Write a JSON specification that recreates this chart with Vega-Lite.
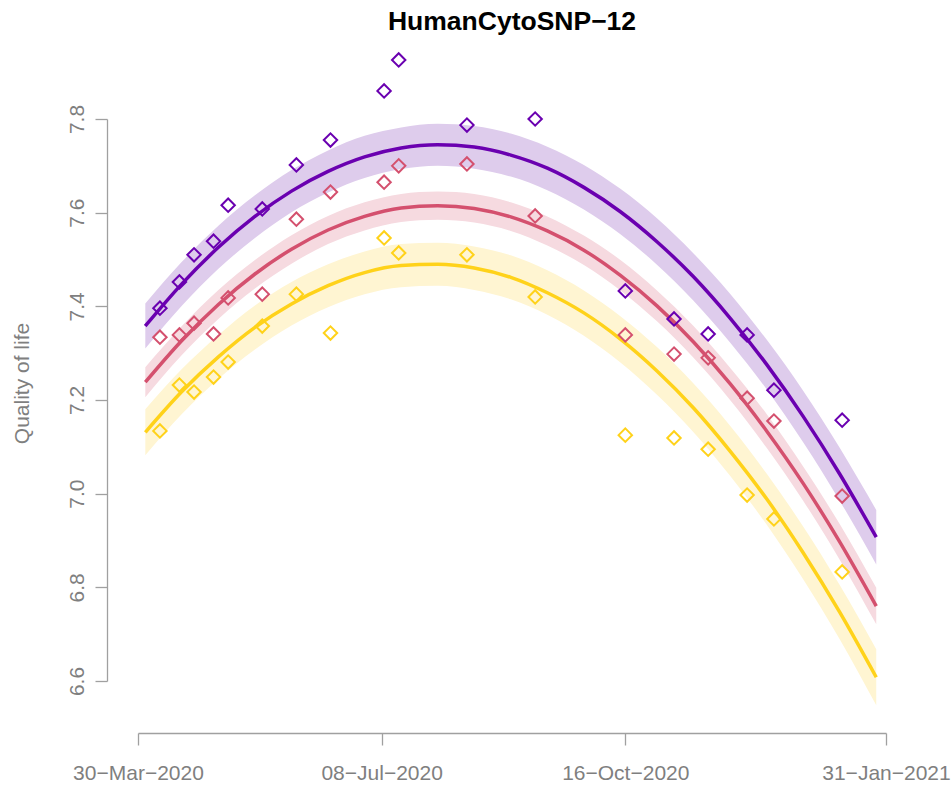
{
  "$schema": "https://vega.github.io/schema/vega-lite/v6.json",
  "autosize": {"type": "none"},
  "padding": {"left": 138, "top": 119, "right": 65, "bottom": 105},
  "width": 748,
  "height": 562,
  "background": "white",
  "title": {"text": "HumanCytoSNP−12", "font": "Liberation Sans", "fontSize": 26.5, "fontWeight": "bold", "color": "black", "anchor": "middle", "frame": "group", "baseline": "alphabetic", "offset": 0, "dy": 7},
  "config": {
    "view": {"stroke": null},
    "axis": {"grid": false, "labelFont": "Liberation Sans", "titleFont": "Liberation Sans", "labelFontSize": 21, "titleFontSize": 21, "labelColor": "#7f7f7f", "titleColor": "#7f7f7f", "titleFontWeight": "normal", "domainColor": "#a0a0a0", "tickColor": "#a0a0a0", "domainWidth": 1.3, "tickWidth": 1.3, "tickSize": 12}
  },
  "datasets": {
    "points": [
      {"g": "1", "date": "2020-04-08", "v": 7.396}, {"g": "1", "date": "2020-04-16", "v": 7.452}, {"g": "1", "date": "2020-04-22", "v": 7.510}, {"g": "1", "date": "2020-04-30", "v": 7.539}, {"g": "1", "date": "2020-05-06", "v": 7.616}, {"g": "1", "date": "2020-05-20", "v": 7.608}, {"g": "1", "date": "2020-06-03", "v": 7.702}, {"g": "1", "date": "2020-06-17", "v": 7.755}, {"g": "1", "date": "2020-07-09", "v": 7.860}, {"g": "1", "date": "2020-07-15", "v": 7.926}, {"g": "1", "date": "2020-08-12", "v": 7.787}, {"g": "1", "date": "2020-09-09", "v": 7.800}, {"g": "1", "date": "2020-10-16", "v": 7.433}, {"g": "1", "date": "2020-11-05", "v": 7.373}, {"g": "1", "date": "2020-11-19", "v": 7.341}, {"g": "1", "date": "2020-12-05", "v": 7.339}, {"g": "1", "date": "2020-12-16", "v": 7.221}, {"g": "1", "date": "2021-01-13", "v": 7.157},
      {"g": "2", "date": "2020-04-08", "v": 7.334}, {"g": "2", "date": "2020-04-16", "v": 7.339}, {"g": "2", "date": "2020-04-22", "v": 7.364}, {"g": "2", "date": "2020-04-30", "v": 7.341}, {"g": "2", "date": "2020-05-06", "v": 7.418}, {"g": "2", "date": "2020-05-20", "v": 7.426}, {"g": "2", "date": "2020-06-03", "v": 7.586}, {"g": "2", "date": "2020-06-17", "v": 7.644}, {"g": "2", "date": "2020-07-09", "v": 7.665}, {"g": "2", "date": "2020-07-15", "v": 7.700}, {"g": "2", "date": "2020-08-12", "v": 7.704}, {"g": "2", "date": "2020-09-09", "v": 7.593}, {"g": "2", "date": "2020-10-16", "v": 7.339}, {"g": "2", "date": "2020-11-05", "v": 7.298}, {"g": "2", "date": "2020-11-19", "v": 7.290}, {"g": "2", "date": "2020-12-05", "v": 7.204}, {"g": "2", "date": "2020-12-16", "v": 7.155}, {"g": "2", "date": "2021-01-13", "v": 6.995},
      {"g": "3", "date": "2020-04-08", "v": 7.134}, {"g": "3", "date": "2020-04-16", "v": 7.232}, {"g": "3", "date": "2020-04-22", "v": 7.217}, {"g": "3", "date": "2020-04-30", "v": 7.249}, {"g": "3", "date": "2020-05-06", "v": 7.281}, {"g": "3", "date": "2020-05-20", "v": 7.358}, {"g": "3", "date": "2020-06-03", "v": 7.426}, {"g": "3", "date": "2020-06-17", "v": 7.343}, {"g": "3", "date": "2020-07-09", "v": 7.546}, {"g": "3", "date": "2020-07-15", "v": 7.514}, {"g": "3", "date": "2020-08-12", "v": 7.510}, {"g": "3", "date": "2020-09-09", "v": 7.420}, {"g": "3", "date": "2020-10-16", "v": 7.125}, {"g": "3", "date": "2020-11-05", "v": 7.119}, {"g": "3", "date": "2020-11-19", "v": 7.095}, {"g": "3", "date": "2020-12-05", "v": 6.997}, {"g": "3", "date": "2020-12-16", "v": 6.946}, {"g": "3", "date": "2021-01-13", "v": 6.833}
    ],
    "fit": [
      {"g": "1", "date": "2020-04-02", "fit": 7.358, "lo": 7.310, "hi": 7.406},
      {"g": "1", "date": "2020-04-17", "fit": 7.448, "lo": 7.401, "hi": 7.495},
      {"g": "1", "date": "2020-05-02", "fit": 7.526, "lo": 7.480, "hi": 7.572},
      {"g": "1", "date": "2020-05-17", "fit": 7.592, "lo": 7.546, "hi": 7.637},
      {"g": "1", "date": "2020-06-01", "fit": 7.646, "lo": 7.601, "hi": 7.691},
      {"g": "1", "date": "2020-06-16", "fit": 7.688, "lo": 7.643, "hi": 7.733},
      {"g": "1", "date": "2020-07-01", "fit": 7.719, "lo": 7.674, "hi": 7.764},
      {"g": "1", "date": "2020-07-16", "fit": 7.738, "lo": 7.693, "hi": 7.782},
      {"g": "1", "date": "2020-07-31", "fit": 7.745, "lo": 7.700, "hi": 7.790},
      {"g": "1", "date": "2020-08-15", "fit": 7.740, "lo": 7.694, "hi": 7.785},
      {"g": "1", "date": "2020-08-30", "fit": 7.723, "lo": 7.677, "hi": 7.769},
      {"g": "1", "date": "2020-09-14", "fit": 7.695, "lo": 7.648, "hi": 7.741},
      {"g": "1", "date": "2020-09-29", "fit": 7.654, "lo": 7.607, "hi": 7.702},
      {"g": "1", "date": "2020-10-14", "fit": 7.602, "lo": 7.554, "hi": 7.651},
      {"g": "1", "date": "2020-10-29", "fit": 7.538, "lo": 7.489, "hi": 7.588},
      {"g": "1", "date": "2020-11-13", "fit": 7.463, "lo": 7.412, "hi": 7.513},
      {"g": "1", "date": "2020-11-28", "fit": 7.375, "lo": 7.323, "hi": 7.427},
      {"g": "1", "date": "2020-12-13", "fit": 7.276, "lo": 7.223, "hi": 7.329},
      {"g": "1", "date": "2020-12-28", "fit": 7.165, "lo": 7.110, "hi": 7.220},
      {"g": "1", "date": "2021-01-12", "fit": 7.042, "lo": 6.985, "hi": 7.098},
      {"g": "1", "date": "2021-01-27", "fit": 6.907, "lo": 6.849, "hi": 6.965},
      {"g": "2", "date": "2020-04-02", "fit": 7.238, "lo": 7.206, "hi": 7.270},
      {"g": "2", "date": "2020-04-17", "fit": 7.327, "lo": 7.296, "hi": 7.358},
      {"g": "2", "date": "2020-05-02", "fit": 7.404, "lo": 7.373, "hi": 7.435},
      {"g": "2", "date": "2020-05-17", "fit": 7.469, "lo": 7.438, "hi": 7.499},
      {"g": "2", "date": "2020-06-01", "fit": 7.522, "lo": 7.491, "hi": 7.552},
      {"g": "2", "date": "2020-06-16", "fit": 7.563, "lo": 7.533, "hi": 7.593},
      {"g": "2", "date": "2020-07-01", "fit": 7.592, "lo": 7.562, "hi": 7.622},
      {"g": "2", "date": "2020-07-16", "fit": 7.610, "lo": 7.580, "hi": 7.640},
      {"g": "2", "date": "2020-07-31", "fit": 7.615, "lo": 7.585, "hi": 7.645},
      {"g": "2", "date": "2020-08-15", "fit": 7.609, "lo": 7.579, "hi": 7.640},
      {"g": "2", "date": "2020-08-30", "fit": 7.591, "lo": 7.561, "hi": 7.622},
      {"g": "2", "date": "2020-09-14", "fit": 7.561, "lo": 7.530, "hi": 7.592},
      {"g": "2", "date": "2020-09-29", "fit": 7.520, "lo": 7.488, "hi": 7.551},
      {"g": "2", "date": "2020-10-14", "fit": 7.466, "lo": 7.434, "hi": 7.499},
      {"g": "2", "date": "2020-10-29", "fit": 7.401, "lo": 7.368, "hi": 7.434},
      {"g": "2", "date": "2020-11-13", "fit": 7.324, "lo": 7.290, "hi": 7.358},
      {"g": "2", "date": "2020-11-28", "fit": 7.235, "lo": 7.200, "hi": 7.269},
      {"g": "2", "date": "2020-12-13", "fit": 7.134, "lo": 7.098, "hi": 7.170},
      {"g": "2", "date": "2020-12-28", "fit": 7.022, "lo": 6.985, "hi": 7.058},
      {"g": "2", "date": "2021-01-12", "fit": 6.897, "lo": 6.859, "hi": 6.935},
      {"g": "2", "date": "2021-01-27", "fit": 6.760, "lo": 6.721, "hi": 6.799},
      {"g": "3", "date": "2020-04-02", "fit": 7.131, "lo": 7.082, "hi": 7.180},
      {"g": "3", "date": "2020-04-17", "fit": 7.218, "lo": 7.170, "hi": 7.266},
      {"g": "3", "date": "2020-05-02", "fit": 7.292, "lo": 7.245, "hi": 7.339},
      {"g": "3", "date": "2020-05-17", "fit": 7.355, "lo": 7.308, "hi": 7.402},
      {"g": "3", "date": "2020-06-01", "fit": 7.405, "lo": 7.359, "hi": 7.452},
      {"g": "3", "date": "2020-06-16", "fit": 7.444, "lo": 7.398, "hi": 7.490},
      {"g": "3", "date": "2020-07-01", "fit": 7.472, "lo": 7.426, "hi": 7.517},
      {"g": "3", "date": "2020-07-16", "fit": 7.487, "lo": 7.441, "hi": 7.533},
      {"g": "3", "date": "2020-07-31", "fit": 7.490, "lo": 7.444, "hi": 7.536},
      {"g": "3", "date": "2020-08-15", "fit": 7.482, "lo": 7.435, "hi": 7.528},
      {"g": "3", "date": "2020-08-30", "fit": 7.462, "lo": 7.415, "hi": 7.509},
      {"g": "3", "date": "2020-09-14", "fit": 7.429, "lo": 7.382, "hi": 7.477},
      {"g": "3", "date": "2020-09-29", "fit": 7.386, "lo": 7.337, "hi": 7.434},
      {"g": "3", "date": "2020-10-14", "fit": 7.330, "lo": 7.280, "hi": 7.379},
      {"g": "3", "date": "2020-10-29", "fit": 7.262, "lo": 7.211, "hi": 7.313},
      {"g": "3", "date": "2020-11-13", "fit": 7.183, "lo": 7.131, "hi": 7.235},
      {"g": "3", "date": "2020-11-28", "fit": 7.091, "lo": 7.038, "hi": 7.145},
      {"g": "3", "date": "2020-12-13", "fit": 6.989, "lo": 6.934, "hi": 7.043},
      {"g": "3", "date": "2020-12-28", "fit": 6.874, "lo": 6.817, "hi": 6.930},
      {"g": "3", "date": "2021-01-12", "fit": 6.747, "lo": 6.689, "hi": 6.805},
      {"g": "3", "date": "2021-01-27", "fit": 6.608, "lo": 6.548, "hi": 6.668}
    ]
  },
  "encoding": {
    "x": {
      "field": "date", "type": "temporal",
      "scale": {"type": "utc", "domain": [{"year": 2020, "month": 3, "date": 30, "utc": true}, {"year": 2021, "month": 1, "date": 31, "utc": true}], "nice": false},
      "axis": {
        "title": null, "orient": "bottom", "offset": 52, "labelPadding": 17,
        "values": [{"year": 2020, "month": 3, "date": 30, "utc": true}, {"year": 2020, "month": 7, "date": 8, "utc": true}, {"year": 2020, "month": 10, "date": 16, "utc": true}, {"year": 2021, "month": 1, "date": 31, "utc": true}],
        "labelExpr": "utcFormat(datum.value, '%d−%b−%Y')", "labelFlush": false, "labelOverlap": false
      }
    }
  },
  "layer": [
    {
      "data": {"name": "fit"},
      "mark": {"type": "area", "interpolate": "monotone"},
      "encoding": {
        "y": {"field": "lo", "type": "quantitative", "scale": {"domain": [6.6, 7.8], "zero": false, "nice": false},
          "axis": {"title": "Quality of life", "orient": "left", "offset": 31, "values": [6.6, 6.8, 7.0, 7.2, 7.4, 7.6, 7.8], "format": ".1f", "labelAngle": -90, "labelAlign": "center", "labelBaseline": "alphabetic", "labelPadding": 12, "labelFlush": false, "labelOverlap": false, "titleAngle": -90, "titleAlign": "center", "titleBaseline": "alphabetic", "titleX": -79, "titleY": 264}},
        "y2": {"field": "hi"},
        "fill": {"field": "g", "type": "nominal", "scale": {"domain": ["1", "2", "3"], "range": ["#DECCEC", "#F6DAE0", "#FFF5D2"]}, "legend": null}
      }
    },
    {
      "data": {"name": "fit"},
      "mark": {"type": "line", "interpolate": "monotone", "strokeWidth": 3.5},
      "encoding": {
        "y": {"field": "fit", "type": "quantitative"},
        "stroke": {"field": "g", "type": "nominal", "scale": {"domain": ["1", "2", "3"], "range": ["#6A00B0", "#D4506E", "#FFD21A"]}, "legend": null}
      }
    },
    {
      "data": {"name": "points"},
      "mark": {"type": "point", "shape": "diamond", "filled": false, "strokeWidth": 2, "size": 180, "opacity": 1},
      "encoding": {
        "y": {"field": "v", "type": "quantitative"},
        "stroke": {"field": "g", "type": "nominal", "legend": null}
      }
    }
  ]
}
